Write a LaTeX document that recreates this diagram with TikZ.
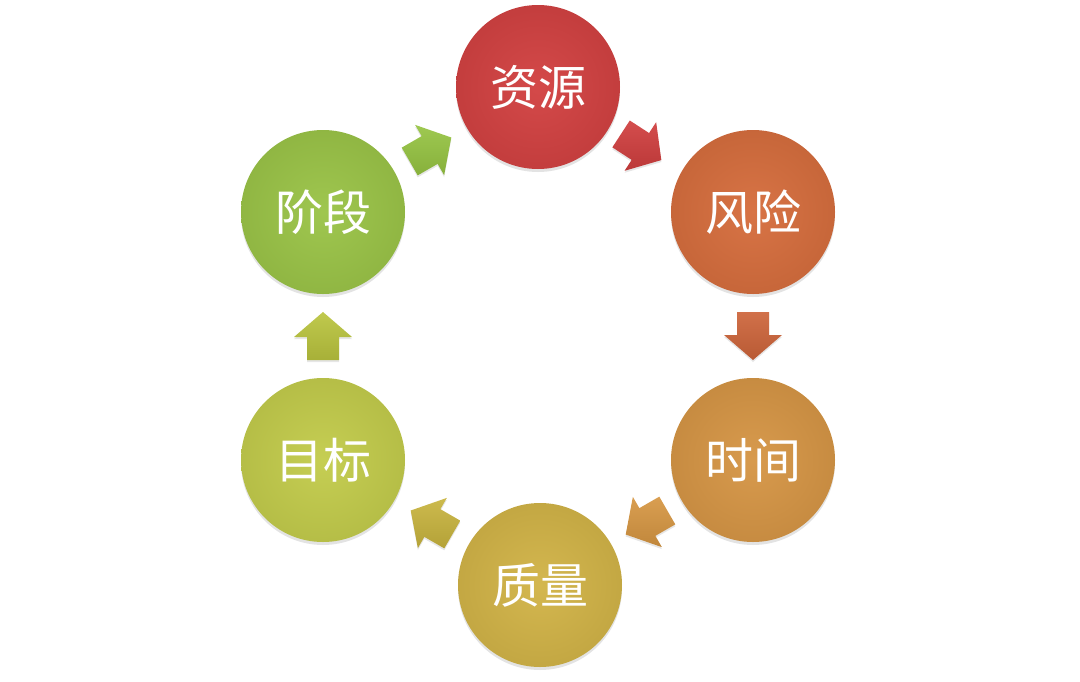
\documentclass[tikz,border=0pt]{standalone}
\usepackage{fontspec}
\newfontfamily\cjk{Noto Sans CJK SC}
\usetikzlibrary{calc,shadows}
\definecolor{cA}{RGB}{210,66,66}
\definecolor{cB}{RGB}{214,110,62}
\definecolor{cC}{RGB}{214,150,70}
\definecolor{cD}{RGB}{210,180,72}
\definecolor{cE}{RGB}{195,204,76}
\definecolor{cF}{RGB}{155,196,72}
\definecolor{aA}{RGB}{208,62,62}
\definecolor{aB}{RGB}{205,100,58}
\definecolor{aC}{RGB}{214,150,66}
\definecolor{aD}{RGB}{200,180,62}
\definecolor{aE}{RGB}{186,196,62}
\definecolor{aF}{RGB}{150,196,66}
\tikzset{
  ball/.style={circle, minimum size=164pt, inner sep=0pt,
    inner color=#1!96!white, outer color=#1!93!black,
    text=white, font=\cjk\fontsize{48}{48}\selectfont,
    drop shadow={opacity=0.22, shadow xshift=0pt, shadow yshift=-3pt}},
  pics/blockarrow/.style={code={
    \path[top color=#1!92!white, bottom color=#1!90!black,
      drop shadow={opacity=0.2, shadow xshift=0pt, shadow yshift=-2pt}]
      (-24,-16) -- (-1,-16) -- (-1,-29) -- (24,0) -- (-1,29) -- (-1,16) -- (-24,16) -- cycle;
  }}
}
\begin{document}
\begin{tikzpicture}[x=1pt,y=-1pt]
\useasboundingbox (0,0) rectangle (1080,681);
\node[ball=cA] (c1) at (538,87) {资源};
\node[ball=cB] (c2) at (753,212) {风险};
\node[ball=cC] (c3) at (753,460) {时间};
\node[ball=cD] (c4) at (540,585) {质量};
\node[ball=cE] (c5) at (323,460) {目标};
\node[ball=cF] (c6) at (323,212) {阶段};
\pic[rotate=-33] at ($(c1)!0.48!(c2)$) {blockarrow=aA};
\pic[rotate=-90] at ($(c2)!0.5!(c3)$) {blockarrow=aB};
\pic[rotate=-150] at ($(c3)!0.5!(c4)$) {blockarrow=aC};
\pic[rotate=150] at ($(c4)!0.5!(c5)$) {blockarrow=aD};
\pic[rotate=90] at ($(c5)!0.5!(c6)$) {blockarrow=aE};
\pic[rotate=30] at ($(c6)!0.5!(c1)$) {blockarrow=aF};
\end{tikzpicture}
\end{document}
